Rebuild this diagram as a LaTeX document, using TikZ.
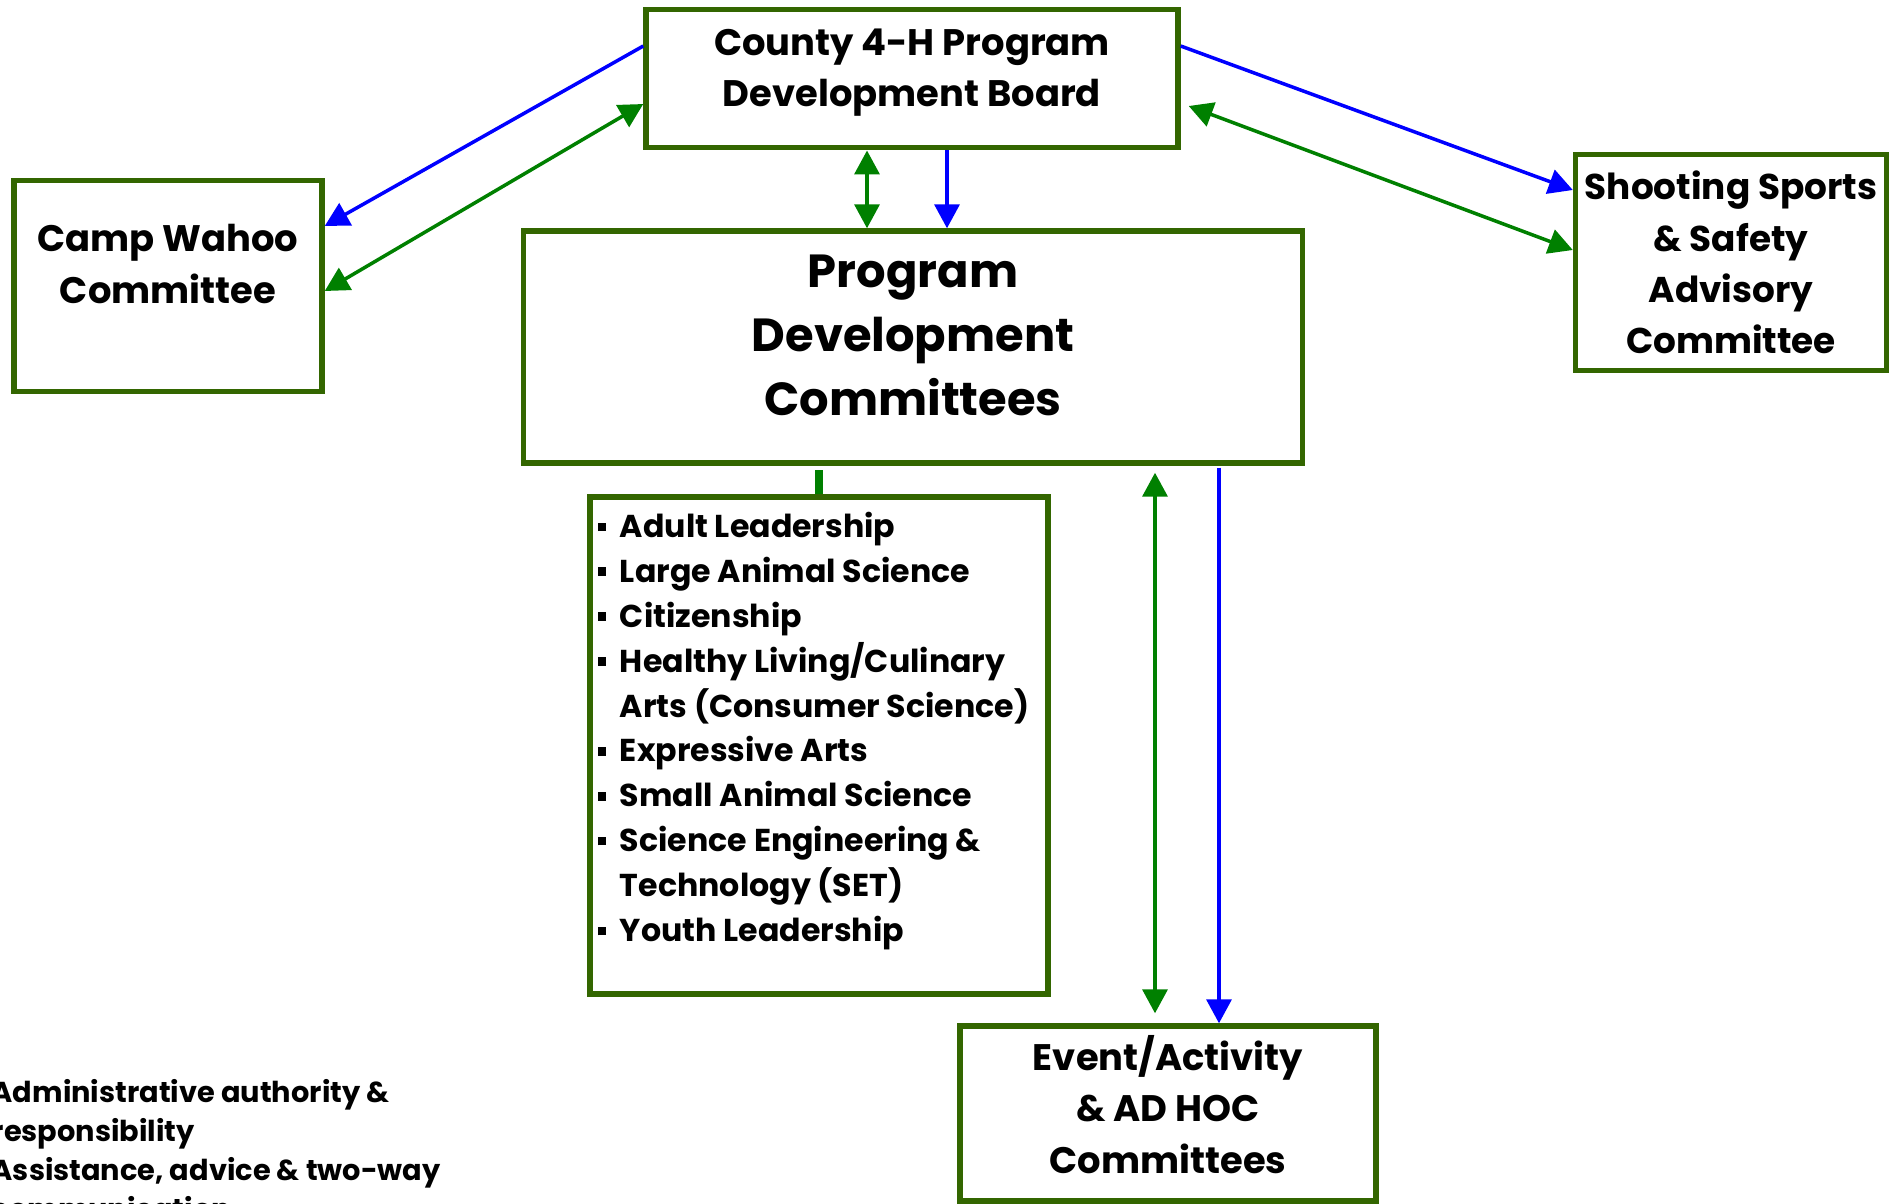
\documentclass[tikz,border=0pt]{standalone}
\usepackage{fontspec}
\setmainfont{Poppins}
\usepackage{tikz}
\usetikzlibrary{positioning}
\usetikzlibrary{calc}
\usetikzlibrary{arrows.meta}

\definecolor{boxgreen}{RGB}{51,102,0}
\definecolor{linkgreen}{RGB}{0,128,0}
\definecolor{linkblue}{RGB}{0,0,255}

\tikzset{
	unit/.style = {draw=boxgreen, line width=1.55pt, rectangle, inner sep=0pt},
	unitname/.style = {align=center, inner sep=0pt, font=\fontsize{10.5}{14.6}\selectfont\bfseries},
	authority/.style = {linkblue, line width=1pt},
	advice/.style = {linkgreen, line width=1pt},
	>={Triangle[length=0.24cm,width=0.25cm]}
}
\newcommand{\topic}{\makebox[0.22cm][l]{\raisebox{0.2em}{\rule{0.085cm}{0.085cm}}}}

\begin{document}
\begin{tikzpicture}
	\useasboundingbox (0,0) rectangle (18.96,-12.03);

	% boxes
	\node[unit, minimum width=5.32cm, minimum height=1.385cm] (board) at (9.12,-0.785) {};
	\node[unit, minimum width=3.08cm, minimum height=2.11cm] (camp) at (1.68,-2.86) {};
	\node[unit, minimum width=7.79cm, minimum height=2.32cm] (pdc) at (9.13,-3.47) {};
	\node[unit, minimum width=3.11cm, minimum height=2.16cm] (shoot) at (17.31,-2.625) {};
	\node[unit, minimum width=4.58cm, minimum height=4.97cm] (topics) at (8.19,-7.455) {};
	\node[unit, minimum width=4.16cm, minimum height=1.75cm] (event) at (11.68,-11.135) {};

	% box texts
	\node[unitname] (boardname) at ([yshift=0.06cm]board.center) {County 4-H Program\\Development Board};
	\node[unitname] (campname) at ([yshift=0.22cm]camp.center) {Camp Wahoo\\Committee};
	\node[unitname, font=\fontsize{13.2}{18.2}\selectfont\bfseries] (pdcname) at ([yshift=0.12cm]pdc.center) {Program\\Development\\Committees};
	\node[unitname, font=\fontsize{10.2}{14.6}\selectfont\bfseries] (shootname) at ([yshift=0cm]shoot.center) {Shooting Sports\\\& Safety\\Advisory\\Committee};
	\node[unitname] (eventname) at ([yshift=0.09cm]event.center) {Event/Activity\\\& AD HOC\\Committees};
	\node[align=left, inner sep=0pt, anchor=north west, font=\fontsize{9}{12.78}\selectfont\bfseries] (topiclist)
		at ([xshift=0.1cm,yshift=-0.17cm]topics.north west) {%
		\topic Adult Leadership\\
		\topic Large Animal Science\\
		\topic Citizenship\\
		\topic Healthy Living/Culinary\\
		\hspace*{0.22cm}Arts (Consumer Science)\\
		\topic Expressive Arts\\
		\topic Small Animal Science\\
		\topic Science Engineering \&\\
		\hspace*{0.22cm}Technology (SET)\\
		\topic Youth Leadership};

	% legend, cut at the page edge
	\node[align=left, inner sep=0pt, anchor=north west, font=\fontsize{8.2}{11.1}\selectfont\bfseries] (legend)
		at (-0.09,-10.79) {Administrative authority \&\\responsibility\\Assistance, advice \& two-way\\communication};

	% administrative authority
	\draw[authority, ->] ([yshift=0.325cm]board.west) -- ([yshift=0.60cm]camp.east);
	\draw[authority, ->] ([yshift=0.325cm]board.east) -- ([yshift=0.725cm]shoot.west);
	\draw[authority, ->] ([xshift=0.35cm]board.south) -- ([xshift=0.35cm]board.south |- pdc.north);
	\draw[authority, ->] ([xshift=3.06cm,yshift=-0.02cm]pdc.south) -- ([xshift=3.06cm]pdc.south |- event.north);

	% assistance, advice & two-way communication
	\draw[advice, <->] ([yshift=-0.05cm]camp.east) -- ([yshift=-0.255cm]board.west);
	\draw[advice, <->] ([xshift=0.08cm,yshift=-0.275cm]board.east) -- ([yshift=0.125cm]shoot.west);
	\draw[advice, <->] ([xshift=-0.45cm]board.south) -- ([xshift=-0.45cm]board.south |- pdc.north);
	\draw[advice, <->, shorten <=0.07cm, shorten >=0.1cm] ([xshift=2.42cm]pdc.south) -- ([xshift=2.42cm]pdc.south |- event.north);
	\draw[linkgreen, line width=2pt] (topics.north) -- ([yshift=-0.04cm]topics.north |- pdc.south);
\end{tikzpicture}
\end{document}
